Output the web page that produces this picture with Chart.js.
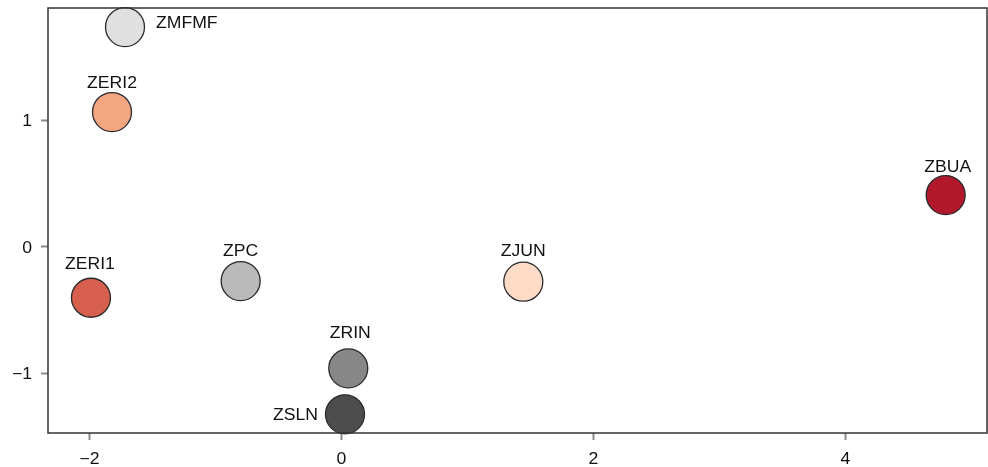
<!DOCTYPE html>
<html>
<head>
<meta charset="utf-8">
<script src="https://cdn.jsdelivr.net/npm/chart.js@4"></script>
<style>
html,body{margin:0;padding:0;background:#fff;}
#wrap{width:988px;height:467px;}
</style>
</head>
<body>
<div id="wrap"><canvas id="c" width="988" height="467"></canvas></div>
<script>
const names = ["ZMFMF","ZERI2","ZBUA","ZERI1","ZPC","ZJUN","ZRIN","ZSLN"];
const xs = [-1.718,-1.821,4.795,-1.988,-0.800,1.443,0.054,0.028];
const ys = [1.739,1.066,0.409,-0.404,-0.272,-0.277,-0.963,-1.327];
const colors = ["#e0e0e0","#f4a582","#b2182b","#d6604d","#bababa","#fddbc7","#878787","#4d4d4d"];
const xTicks = [-2,0,2,4];
const yTicks = [-1,0,1];

// label placement (pixel offsets from the point centre; style only)
const labelAlign = ["left","center","center","center","center","center","center","right"];
const labelDx = [31, 0, 2, -1, 0, 0, 2, -27];
const labelDy = [1, -24, -23, -29, -25, -26, -30, 6];

const FONT = "'Liberation Sans', Arial, Helvetica, sans-serif";
const FONT_SIZE = 16;
const STRETCH = 1.1;

function drawText(ctx, text, x, y, align){
  ctx.save();
  ctx.translate(x, y);
  ctx.scale(STRETCH, 1);
  ctx.textAlign = align;
  ctx.textBaseline = 'alphabetic';
  ctx.fillText(text, 0, 0);
  ctx.restore();
}

const framePlugin = {
  id: 'frame',
  afterDraw(chart){
    const {ctx, chartArea:a} = chart;
    ctx.save();
    ctx.strokeStyle = '#333';
    ctx.lineWidth = 1.5;
    ctx.strokeRect(a.left, a.top, a.right - a.left, a.bottom - a.top);
    // tick labels
    ctx.font = FONT_SIZE + "px " + FONT;
    ctx.fillStyle = '#111';
    const sx = chart.scales.x, sy = chart.scales.y;
    xTicks.forEach(v => drawText(ctx, fmt(v), sx.getPixelForValue(v), a.bottom + 31, 'center'));
    yTicks.forEach(v => drawText(ctx, fmt(v), a.left - 16, sy.getPixelForValue(v) + 6, 'right'));
    ctx.restore();
  }
};

const labelPlugin = {
  id: 'pointLabels',
  afterDatasetsDraw(chart){
    const {ctx} = chart;
    const meta = chart.getDatasetMeta(0);
    ctx.save();
    ctx.font = FONT_SIZE + "px " + FONT;
    ctx.fillStyle = '#111';
    meta.data.forEach((pt, i) => {
      drawText(ctx, names[i], pt.x + labelDx[i], pt.y + labelDy[i], labelAlign[i]);
    });
    ctx.restore();
  }
};

const fmt = v => String(v).replace('-', '\u2212');

new Chart(document.getElementById('c'), {
  type: 'scatter',
  data: {
    datasets: [{
      data: xs.map((x, i) => ({x: x, y: ys[i]})),
      backgroundColor: colors,
      borderColor: '#2a2a2a',
      borderWidth: 1.3,
      pointRadius: 19.5,
      pointHoverRadius: 19.5,
      clip: false
    }]
  },
  options: {
    responsive: false,
    animation: false,
    events: [],
    layout: { autoPadding: false, padding: { top: 8, right: 1, left: 0, bottom: 0 } },
    plugins: { legend: { display: false }, tooltip: { enabled: false } },
    scales: {
      x: {
        type: 'linear',
        min: -2.329, max: 5.123,
        afterBuildTicks: s => { s.ticks = xTicks.map(v => ({value: v})); },
        afterFit: s => { s.height = 34; s.paddingLeft = 0; s.paddingRight = 0; },
        grid: { drawOnChartArea: false, tickLength: 7, tickColor: '#8a8a8a', tickWidth: 2 },
        border: { display: false },
        ticks: { display: false }
      },
      y: {
        type: 'linear',
        min: -1.475, max: 1.890,
        afterBuildTicks: s => { s.ticks = yTicks.map(v => ({value: v})); },
        afterFit: s => { s.width = 48; s.paddingTop = 0; s.paddingBottom = 0; },
        grid: { drawOnChartArea: false, tickLength: 7, tickColor: '#8a8a8a', tickWidth: 2 },
        border: { display: false },
        ticks: { display: false }
      }
    }
  },
  plugins: [framePlugin, labelPlugin]
});
</script>
</body>
</html>
